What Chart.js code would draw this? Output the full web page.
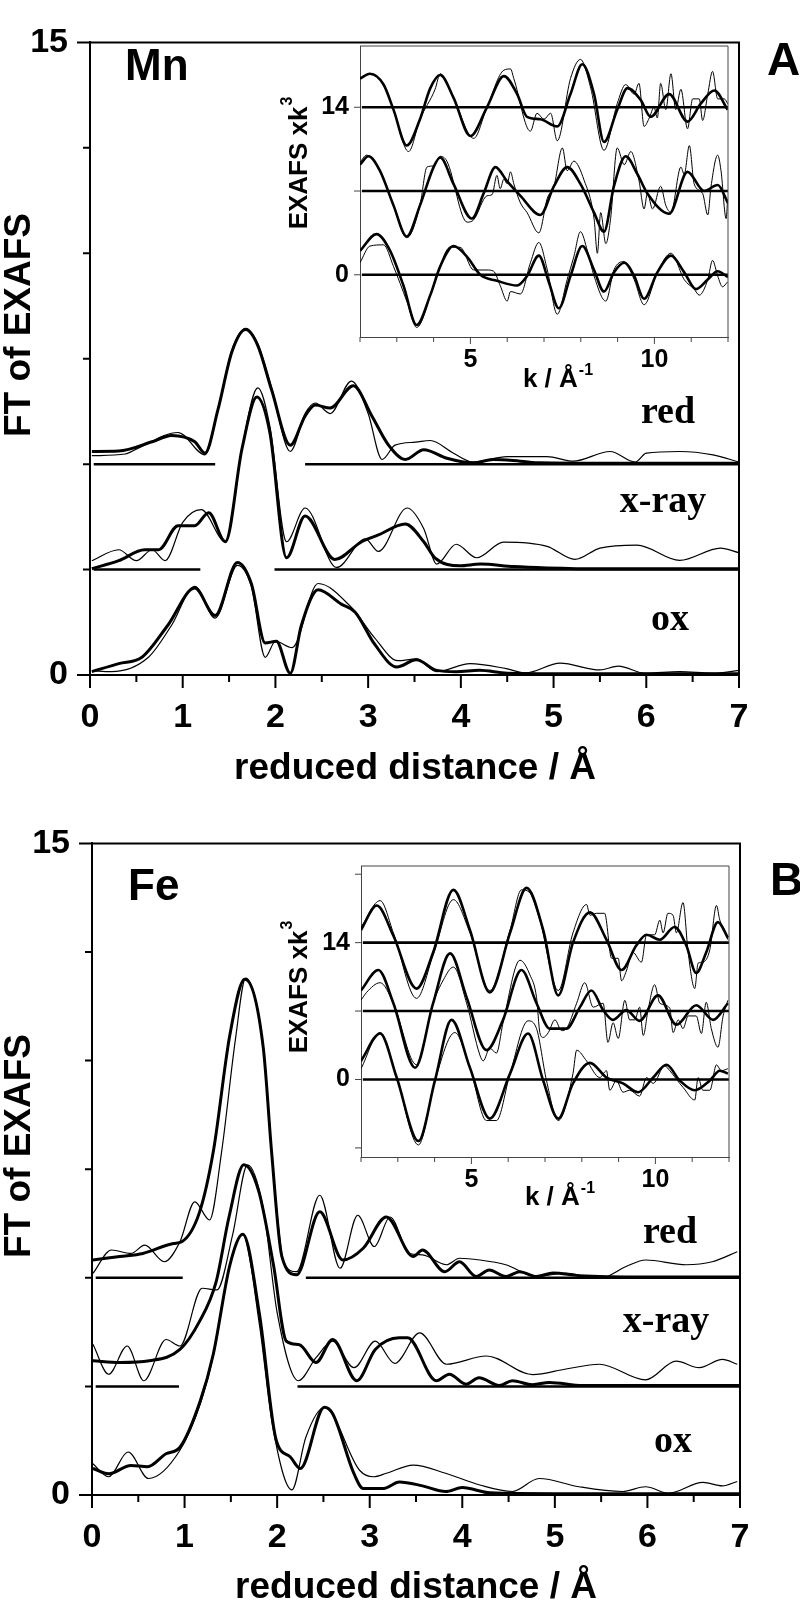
<!DOCTYPE html>
<html>
<head>
<meta charset="utf-8">
<script src="https://cdn.jsdelivr.net/npm/chart.js@4.4.1/dist/chart.umd.min.js"></script>
<style>
  body { margin: 0; background: #fff; }
  #wrap { position: relative; width: 800px; height: 1602px; background: #fff; }
  canvas { position: absolute; }
</style>
</head>
<body>
<div id="wrap">
  <canvas id="mainA" width="800" height="801" style="left:0;top:0"></canvas>
  <canvas id="insetA" width="480" height="390" style="left:270px;top:20px"></canvas>
  <canvas id="mainB" width="800" height="801" style="left:0;top:801px"></canvas>
  <canvas id="insetB" width="480" height="390" style="left:271px;top:840px"></canvas>
</div>
<script>
// ---- Mn, FT of EXAFS (reduced distance in Å, curves already offset) ----
const mnRedFit = [[0.02,5.30],[0.31,5.31],[0.67,5.53],[0.88,5.68],[1.13,5.53],[1.24,5.26],[1.38,6.29],[1.53,7.66],[1.68,8.19],[1.81,7.81],[1.96,6.75],[2.16,5.45],[2.32,6.14],[2.43,6.40],[2.59,6.33],[2.84,6.86],[3.04,6.14],[3.22,5.45],[3.40,5.11],[3.60,5.34],[3.85,5.14],[4.13,5.03],[4.35,5.11],[4.64,5.07],[4.86,5.03],[5.5,5.02],[6.0,5.02],[7.0,5.02]];
const mnRedExp = [[0.02,5.2],[0.38,5.24],[0.52,5.38],[0.95,5.75],[1.24,5.22],[1.38,6.3],[1.53,7.7],[1.68,8.22],[1.81,7.85],[1.96,6.8],[2.16,5.30],[2.32,6.2],[2.43,6.45],[2.59,6.2],[2.82,6.97],[3.0,6.2],[3.15,5.11],[3.29,5.45],[3.51,5.52],[3.67,5.56],[3.92,5.26],[4.13,5.05],[4.5,5.18],[4.93,5.18],[5.21,5.07],[5.61,5.30],[5.88,5.05],[6.0,5.26],[6.36,5.30],[6.72,5.22],[7.0,5.05]];
const mnXrayFit = [[0.02,2.52],[0.31,2.71],[0.59,2.97],[0.74,2.97],[0.95,3.54],[1.13,3.54],[1.28,3.85],[1.46,3.16],[1.64,5.37],[1.80,6.59],[1.94,5.75],[2.12,2.78],[2.32,3.77],[2.64,2.74],[2.93,3.16],[3.11,3.32],[3.40,3.58],[3.60,3.16],[3.72,2.78],[3.99,2.59],[4.21,2.63],[4.57,2.57],[4.93,2.54],[5.5,2.52],[7.0,2.52]];
const mnXrayExp = [[0.02,2.71],[0.31,2.97],[0.50,2.71],[0.67,2.97],[0.81,2.71],[1.0,3.62],[1.2,3.92],[1.46,3.16],[1.64,5.4],[1.81,6.81],[1.94,5.9],[2.12,3.16],[2.32,3.96],[2.66,2.55],[2.97,3.23],[3.11,2.93],[3.42,3.96],[3.60,3.47],[3.74,2.63],[3.95,3.10],[4.17,2.78],[4.46,3.15],[4.93,3.05],[5.23,2.74],[5.50,3.01],[5.9,3.08],[6.36,2.72],[6.80,3.01],[7.0,2.9]];
const mnOxFit = [[0.02,0.08],[0.31,0.27],[0.56,0.42],[0.84,1.18],[1.13,2.06],[1.35,1.41],[1.59,2.67],[1.74,2.17],[1.89,0.76],[2.01,0.80],[2.16,0.04],[2.28,1.18],[2.46,2.02],[2.71,1.68],[2.86,1.49],[3.07,0.73],[3.31,0.19],[3.52,0.36],[3.74,0.11],[3.95,0.08],[4.2,0.11],[4.5,0.04],[5.0,0.03],[7.0,0.03]];
const mnOxExp = [[0.02,0.1],[0.23,0.08],[0.63,0.42],[0.88,1.18],[1.13,2.1],[1.35,1.35],[1.59,2.6],[1.74,2.1],[1.89,0.42],[2.0,0.8],[2.18,0.65],[2.46,2.17],[2.82,1.6],[3.07,0.88],[3.32,0.34],[3.52,0.38],[3.74,0.08],[4.1,0.27],[4.49,0.15],[4.7,0.05],[5.07,0.28],[5.5,0.12],[5.7,0.21],[5.99,0.04],[6.36,0.08],[6.72,0.04],[7.0,0.11]];
const mnRedBase = [[0.04,1.35],[2.32,7]];
const mnXrayBase = [[0.04,1.19],[1.99,7]];

// ---- Fe, FT of EXAFS ----
const feRedFit = [[0.01,5.41],[0.30,5.49],[0.55,5.56],[0.88,5.79],[0.97,5.83],[1.16,6.5],[1.31,7.9],[1.49,10.6],[1.65,11.87],[1.85,10.3],[1.94,7.9],[2.05,5.5],[2.21,5.07],[2.46,6.52],[2.71,5.41],[2.93,5.68],[3.18,6.4],[3.47,5.49],[3.57,5.64],[3.81,5.14],[3.97,5.37],[4.15,5.03],[4.29,5.18],[4.47,5.03],[4.62,5.14],[4.8,5.03],[4.98,5.11],[5.26,5.05],[6.0,5.02],[7.0,5.02]];
const feRedExp = [[0.01,5.1],[0.21,5.64],[0.42,5.56],[0.57,5.75],[0.78,5.37],[0.95,5.83],[1.11,6.75],[1.27,6.33],[1.40,7.9],[1.55,10.5],[1.66,11.9],[1.85,10.3],[1.94,7.9],[2.07,5.37],[2.21,5.14],[2.46,6.9],[2.68,5.22],[2.87,6.44],[3.05,5.72],[3.22,6.4],[3.43,5.56],[3.57,5.53],[3.83,5.30],[3.97,5.45],[4.19,5.41],[4.47,5.30],[4.8,5.03],[5.12,5.11],[5.33,5.03],[5.5,5.0],[5.77,5.26],[5.98,5.41],[6.42,5.30],[6.7,5.37],[6.97,5.60]];
const feXrayFit = [[0.01,3.09],[0.30,3.05],[0.62,3.09],[0.95,3.35],[1.16,3.99],[1.34,4.9],[1.48,6.4],[1.64,7.6],[1.80,7.0],[1.96,5.3],[2.10,3.54],[2.24,3.46],[2.42,3.05],[2.60,3.58],[2.86,2.63],[3.06,3.35],[3.32,3.62],[3.41,3.62],[3.72,2.63],[3.86,2.78],[4.04,2.55],[4.18,2.70],[4.4,2.52],[4.54,2.63],[4.76,2.54],[4.94,2.59],[5.3,2.52],[7.0,2.52]];
const feXrayExp = [[0.01,3.47],[0.18,2.78],[0.38,3.43],[0.56,2.63],[0.80,3.58],[0.95,3.43],[1.19,4.76],[1.35,4.72],[1.52,6.0],[1.68,7.6],[1.85,6.6],[2.0,4.2],[2.23,2.63],[2.42,3.16],[2.60,3.54],[2.83,2.93],[3.06,3.54],[3.27,3.03],[3.54,3.73],[3.83,3.01],[4.26,3.2],[4.76,2.77],[5.12,2.9],[5.48,3.01],[5.98,2.65],[6.31,3.08],[6.56,2.93],[6.81,3.12],[6.97,3.01]];
const feOxFit = [[0.01,0.61],[0.18,0.49],[0.42,0.68],[0.60,0.65],[0.80,0.95],[0.95,1.10],[1.17,2.17],[1.31,3.24],[1.49,5.3],[1.63,6.0],[1.81,4.15],[1.99,1.26],[2.14,0.88],[2.25,0.61],[2.51,2.02],[2.60,1.87],[2.83,0.49],[2.93,0.15],[3.15,0.15],[3.32,0.3],[3.57,0.21],[3.82,0.08],[4.0,0.17],[4.3,0.05],[5.0,0.03],[7.0,0.03]];
const feOxExp = [[0.01,0.72],[0.18,0.42],[0.39,0.99],[0.61,0.38],[0.95,1.03],[1.17,2.1],[1.31,3.2],[1.49,5.3],[1.63,6.0],[1.81,3.9],[1.95,1.6],[2.16,0.12],[2.31,1.33],[2.51,2.02],[2.89,0.57],[3.04,0.42],[3.18,0.5],[3.47,0.69],[3.82,0.50],[4.19,0.23],[4.54,0.08],[4.83,0.38],[5.26,0.19],[5.73,0.08],[5.98,0.19],[6.23,0.04],[6.6,0.29],[6.81,0.21],[6.97,0.31]];
const feRedBase = [[0.04,0.98],[2.31,7]];
const feXrayBase = [[0.04,0.94],[2.22,7]];

const levelRed = 5, levelXray = 2.5;

// ---- insets: EXAFS x k^3 vs k (Å^-1), offsets 14 / 7 / 0 ----
const mnInsetRedFit = [[2.0,16.4],[2.27,16.8],[2.64,15.9],[2.91,13.8],[3.27,10.8],[3.63,13.0],[3.91,15.6],[4.18,16.7],[4.54,14.8],[5.0,11.6],[5.45,14.0],[5.91,16.6],[6.27,15.1],[6.54,13.2],[6.9,13.0],[7.36,12.4],[7.72,15.1],[8.04,17.6],[8.36,15.1],[8.63,11.1],[8.99,13.8],[9.27,15.6],[9.63,14.6],[9.9,13.2],[10.4,15.1],[10.9,12.8],[11.26,14.3],[11.63,15.4],[11.99,13.8]];
const mnInsetRedExp = [[2.0,16.4],[2.27,16.8],[2.64,15.9],[2.91,13.8],[3.32,10.3],[3.63,13.0],[4.04,15.5],[4.18,16.8],[4.54,14.8],[5.09,11.4],[5.45,14.0],[5.91,17.1],[6.09,17.2],[6.18,16.4],[6.63,12.0],[6.81,13.5],[7.0,13.0],[7.18,13.5],[7.36,11.2],[7.72,16.4],[7.99,18.0],[8.27,15.6],[8.63,10.4],[8.99,14.3],[9.22,15.9],[9.45,15.1],[9.58,16.0],[9.72,12.4],[9.86,13.1],[9.99,14.0],[10.08,13.1],[10.17,16.0],[10.31,13.8],[10.45,16.8],[10.58,13.8],[10.72,15.5],[10.9,12.2],[11.04,14.7],[11.22,14.7],[11.31,12.9],[11.45,15.1],[11.58,17.0],[11.72,14.7],[11.9,14.7],[11.99,14.3]];
const mnInsetXrayFit = [[2.0,9.2],[2.23,9.9],[2.54,8.7],[2.91,5.8],[3.27,3.2],[3.63,5.8],[4.0,9.0],[4.18,9.8],[4.54,7.6],[5.04,4.7],[5.36,6.8],[5.68,9.0],[6.0,7.8],[6.36,6.6],[6.9,5.0],[7.27,7.4],[7.63,9.0],[7.99,7.6],[8.36,5.2],[8.63,3.6],[8.9,7.4],[9.22,9.9],[9.54,8.4],[9.81,6.8],[10.4,5.1],[10.9,8.6],[11.35,7.0],[11.72,7.5],[12.0,6.0]];
const mnInsetXrayExp = [[2.0,9.4],[2.18,10.0],[2.54,8.7],[2.91,5.8],[3.27,3.1],[3.63,5.8],[3.82,9.0],[4.0,9.1],[4.18,9.9],[4.36,9.5],[4.91,4.4],[5.09,4.6],[5.45,6.6],[5.59,6.7],[5.72,8.3],[5.81,7.2],[5.91,8.0],[6.0,7.6],[6.09,8.6],[6.18,7.6],[6.36,6.0],[6.54,5.2],[6.86,3.5],[7.09,6.4],[7.27,7.4],[7.5,10.6],[7.63,8.7],[7.81,9.5],[8.09,7.9],[8.36,4.7],[8.45,1.8],[8.54,5.2],[8.68,2.6],[8.81,4.7],[8.99,10.6],[9.18,9.2],[9.36,10.3],[9.58,7.9],[9.72,5.5],[9.81,6.8],[9.95,5.5],[10.17,7.4],[10.31,5.8],[10.45,5.2],[10.72,9.0],[10.81,8.4],[10.95,10.8],[11.08,7.6],[11.31,6.8],[11.45,5.0],[11.54,7.4],[11.72,10.0],[11.81,8.7],[11.95,4.7],[11.99,6.3]];
const mnInsetOxFit = [[2.0,2.0],[2.45,3.4],[2.82,2.0],[3.18,-0.9],[3.54,-4.2],[3.91,-1.7],[4.18,0.7],[4.54,2.4],[4.91,1.5],[5.27,0.0],[5.72,-0.5],[6.27,-0.9],[6.54,-0.1],[6.86,1.6],[7.13,-0.6],[7.40,-2.8],[7.72,-0.1],[8.04,2.4],[8.36,0.4],[8.63,-1.4],[8.9,0.2],[9.18,1.0],[9.45,-0.1],[9.72,-2.0],[10.08,0.2],[10.45,1.6],[10.81,0.2],[11.13,-1.2],[11.45,-0.4],[11.72,0.3],[12.0,-0.2]];
const mnInsetOxExp = [[2.0,1.0],[2.27,2.4],[2.64,2.5],[2.91,0.7],[3.27,-2.2],[3.54,-4.4],[4.0,-0.9],[4.45,2.3],[4.72,2.3],[5.09,0.4],[5.45,0.4],[5.63,0.3],[5.81,-0.9],[6.0,-2.2],[6.09,-1.4],[6.36,-1.6],[6.63,1.0],[6.86,2.7],[7.09,0.4],[7.36,-3.3],[7.63,-0.4],[7.81,1.5],[7.99,3.6],[8.18,2.0],[8.36,-0.1],[8.68,-2.2],[8.9,0.4],[9.18,1.1],[9.45,-0.4],[9.72,-2.5],[10.08,0.2],[10.45,1.8],[10.81,-0.4],[11.08,-1.2],[11.22,-1.7],[11.45,-0.4],[11.58,1.2],[11.72,-0.1],[11.85,-1.0],[11.99,-0.6]];

const feInsetRedFit = [[2.0,15.3],[2.43,17.8],[2.88,14.7],[3.51,9.3],[3.96,13.0],[4.51,19.4],[4.96,15.3],[5.50,8.9],[6.05,15.0],[6.50,19.6],[6.95,15.3],[7.36,8.6],[7.76,14.0],[8.22,17.1],[8.67,14.3],[9.08,11.2],[9.48,13.7],[9.76,14.8],[10.12,14.3],[10.52,15.6],[10.84,13.7],[11.11,10.9],[11.38,13.0],[11.70,16.1],[11.97,14.5]];
const feInsetRedExp = [[2.0,15.6],[2.52,18.3],[2.88,15.0],[3.51,8.3],[3.96,12.7],[4.51,18.4],[4.96,15.0],[5.50,9.1],[6.05,15.3],[6.36,19.4],[6.59,19.1],[6.86,16.3],[7.36,9.1],[7.76,15.0],[8.13,17.9],[8.22,16.8],[8.40,17.0],[8.62,17.0],[8.81,12.4],[8.99,12.4],[9.08,10.1],[9.21,11.1],[9.39,13.0],[9.62,12.0],[9.76,14.8],[9.98,14.8],[10.12,16.3],[10.21,15.0],[10.34,17.0],[10.48,16.8],[10.57,15.0],[10.75,18.1],[10.89,13.0],[11.07,9.3],[11.16,11.9],[11.29,12.0],[11.48,13.3],[11.66,17.8],[11.75,16.3],[11.88,15.3],[11.97,14.3]];
const feInsetXrayFit = [[2.0,9.1],[2.47,11.2],[2.88,7.8],[3.47,1.2],[3.96,7.8],[4.42,12.9],[4.87,8.4],[5.41,3.0],[5.86,6.1],[6.36,11.2],[6.77,7.8],[7.13,5.2],[7.58,5.2],[7.95,7.4],[8.26,9.1],[8.58,7.1],[8.85,6.1],[9.21,7.1],[9.57,6.0],[10.07,8.6],[10.57,5.6],[11.11,7.6],[11.57,6.1],[11.97,7.8]];
const feInsetXrayExp = [[2.0,8.1],[2.15,8.9],[2.52,9.9],[2.88,7.8],[3.51,1.5],[3.96,7.8],[4.24,10.2],[4.51,11.5],[4.87,7.8],[5.23,2.5],[5.32,1.9],[5.50,3.2],[5.68,2.7],[5.86,5.8],[6.32,12.2],[6.59,10.7],[6.77,8.4],[6.86,4.8],[6.95,4.3],[7.09,4.8],[7.27,6.1],[7.45,5.0],[7.58,5.2],[7.86,7.8],[8.08,9.9],[8.31,7.4],[8.58,7.8],[8.71,3.8],[8.85,5.8],[8.99,4.2],[9.17,8.1],[9.30,6.1],[9.44,6.1],[9.57,7.4],[9.67,4.5],[9.80,7.1],[9.98,9.7],[10.12,7.8],[10.39,7.3],[10.48,4.8],[10.62,6.1],[10.75,5.2],[10.89,6.5],[11.11,6.5],[11.25,4.7],[11.38,7.9],[11.52,5.2],[11.70,3.3],[11.84,6.5],[11.97,8.1]];
const feInsetOxFit = [[2.0,1.9],[2.52,4.7],[2.97,0.2],[3.56,-6.3],[4.01,-0.1],[4.46,6.1],[4.96,1.2],[5.50,-4.0],[6.05,0.6],[6.54,4.7],[6.95,-0.1],[7.36,-4.0],[7.76,-0.4],[8.22,1.7],[8.67,0.2],[9.12,-0.4],[9.53,-1.3],[9.94,0.2],[10.30,1.5],[10.66,-0.1],[11.07,-1.1],[11.48,-0.1],[11.75,0.9],[11.97,0.6]];
const feInsetOxExp = [[2.0,1.1],[2.52,4.8],[2.97,0.2],[3.56,-6.7],[4.01,-0.1],[4.55,4.8],[4.96,1.2],[5.41,-4.2],[5.68,-4.2],[6.05,0.6],[6.54,6.0],[6.77,5.2],[7.04,-0.1],[7.36,-4.2],[7.76,0.6],[7.86,3.0],[8.13,1.9],[8.49,0.2],[8.67,0.9],[8.76,-1.1],[8.94,-0.1],[9.12,-1.3],[9.30,-1.1],[9.57,-1.7],[9.76,0.2],[9.94,-0.4],[10.25,1.4],[10.39,0.9],[10.66,-0.4],[10.75,-0.8],[11.07,-2.1],[11.16,0.2],[11.29,-1.1],[11.48,-1.1],[11.66,1.5],[11.79,0.9],[11.97,1.1]];

const insetLevels = [14, 7, 0];
const insetBaseRange = [2.05, 12];

const SANS = '"Liberation Sans", Arial, Helvetica, sans-serif';
const SERIF = '"Liberation Serif", "Times New Roman", serif';

const pts = arr => arr.map(([x, y]) => ({x, y}));
const curve = (arr, w) => ({
  data: pts(arr), borderColor: '#000', borderWidth: w, pointRadius: 0,
  fill: false, cubicInterpolationMode: 'monotone'
});
const flat = (a, b, level, w) => ({
  data: [{x: a, y: level}, {x: b, y: level}], borderColor: '#000',
  borderWidth: w, pointRadius: 0, fill: false, tension: 0
});

function drawText(ctx, t) {
  ctx.save();
  ctx.translate(t.x, t.y);
  if (t.rot) ctx.rotate(t.rot);
  ctx.fillStyle = '#000';
  ctx.textBaseline = t.base || 'alphabetic';
  ctx.textAlign = 'left';
  ctx.font = t.font;
  const w1 = ctx.measureText(t.text).width;
  let w2 = 0;
  if (t.sup) { ctx.font = t.supFont; w2 = ctx.measureText(t.sup).width + 1; }
  const start = t.align === 'left' ? 0 : -(w1 + w2) / 2;
  ctx.font = t.font;
  ctx.fillText(t.text, start, 0);
  if (t.sup) { ctx.font = t.supFont; ctx.fillText(t.sup, start + w1 + 1, -t.supDy); }
  ctx.restore();
}

// tick marks, top/right frame and free text
function decor(cfg) {
  const isMult = (v, m) => Math.abs(v / m - Math.round(v / m)) < 1e-6;
  return {
    id: 'decor',
    afterDraw(chart) {
      const {ctx, chartArea: a, scales: {x, y}} = chart;
      ctx.save();
      ctx.strokeStyle = cfg.color;
      ctx.lineWidth = cfg.tickWidth;
      ctx.beginPath();
      x.ticks.forEach(t => {
        const px = x.getPixelForValue(t.value);
        const len = isMult(t.value, cfg.xMajor) ? cfg.xLong : cfg.xShort;
        ctx.moveTo(px, a.bottom); ctx.lineTo(px, a.bottom + len);
      });
      y.ticks.forEach(t => {
        const py = y.getPixelForValue(t.value);
        const len = cfg.yMajor.includes(t.value) ? cfg.yLong : cfg.yShort;
        ctx.moveTo(a.left, py); ctx.lineTo(a.left - len, py);
      });
      ctx.stroke();
      ctx.lineWidth = cfg.frameWidth;
      ctx.beginPath();
      ctx.moveTo(a.left, a.top); ctx.lineTo(a.right, a.top); ctx.lineTo(a.right, a.bottom);
      ctx.stroke();
      ctx.restore();
      cfg.texts.forEach(t => drawText(ctx, t));
    }
  };
}

function mainChart(id, s) {
  const datasets = [
    curve(s.redExp, 1.2), curve(s.redFit, 3),
    curve(s.xrayExp, 1.2), curve(s.xrayFit, 3),
    curve(s.oxExp, 1.2), curve(s.oxFit, 3)
  ];
  s.redBase.forEach(([a, b]) => datasets.push(flat(a, b, levelRed, 2.5)));
  s.xrayBase.forEach(([a, b]) => datasets.push(flat(a, b, levelXray, 2.5)));
  const tickFont = {family: SANS, size: 34, weight: 'bold'};
  return new Chart(document.getElementById(id), {
    type: 'line',
    data: {datasets},
    options: {
      responsive: false, animation: false,
      layout: {padding: {top: s.top, right: s.right, left: 0, bottom: 0}},
      plugins: {legend: {display: false}, tooltip: {enabled: false}},
      scales: {
        x: {
          type: 'linear', min: 0, max: 7,
          ticks: {stepSize: 0.5, autoSkip: false, maxRotation: 0, padding: 22, color: '#000', font: tickFont,
                  callback: v => Number.isInteger(v) ? v : ''},
          grid: {display: false, drawTicks: false},
          border: {color: '#000', width: 2},
          afterFit: sc => { sc.height = s.xHeight; }
        },
        y: {
          min: 0, max: 15,
          ticks: {stepSize: 2.5, autoSkip: false, padding: 22, color: '#000', font: tickFont,
                  callback: v => (v === 0 || v === 15) ? v : ''},
          grid: {display: false, drawTicks: false},
          border: {color: '#000', width: 2},
          afterFit: sc => { sc.width = s.yWidth; }
        }
      }
    },
    plugins: [decor({
      color: '#000', tickWidth: 2, frameWidth: 2,
      xMajor: 1, xLong: 13, xShort: 7, yMajor: [0, 15], yLong: 13, yShort: 7,
      texts: s.texts
    })]
  });
}

function insetChart(id, s) {
  const datasets = [
    curve(s.redExp, 1), curve(s.redFit, 2.6),
    curve(s.xrayExp, 1), curve(s.xrayFit, 2.6),
    curve(s.oxExp, 1), curve(s.oxFit, 2.6)
  ];
  insetLevels.forEach(l => datasets.push(flat(insetBaseRange[0], insetBaseRange[1], l, 2.6)));
  const tickFont = {family: SANS, size: 25, weight: 'bold'};
  return new Chart(document.getElementById(id), {
    type: 'line',
    data: {datasets},
    options: {
      responsive: false, animation: false,
      layout: {padding: {top: 13, right: 22, left: 0, bottom: 0}},
      plugins: {legend: {display: false}, tooltip: {enabled: false}},
      scales: {
        x: {
          type: 'linear', min: 2, max: 12,
          ticks: {stepSize: 1, autoSkip: false, maxRotation: 0, padding: 8, color: '#000', font: tickFont,
                  callback: v => (v === 5 || v === 10) ? v : ''},
          grid: {display: false, drawTicks: false},
          border: {color: '#444', width: 1},
          afterFit: sc => { sc.height = 73; }
        },
        y: {
          min: s.yMin, max: s.yMax,
          afterBuildTicks: sc => { sc.ticks = s.yTicks.map(v => ({value: v})); },
          ticks: {autoSkip: false, padding: 11, color: '#000', font: tickFont,
                  callback: v => (v === 0 || v === 14) ? v : ''},
          grid: {display: false, drawTicks: false},
          border: {color: '#444', width: 1},
          afterFit: sc => { sc.width = 90; }
        }
      }
    },
    plugins: [decor({
      color: '#444', tickWidth: 1, frameWidth: 1,
      xMajor: 5, xLong: 7, xShort: 5, yMajor: s.yTicks, yLong: 6, yShort: 6,
      texts: s.texts
    })]
  });
}

const labelFont = 'bold 38px ' + SERIF;
const titleFont = 'bold 37px ' + SANS;
const up = -Math.PI / 2;

mainChart('mainA', {
  redFit: mnRedFit, redExp: mnRedExp, xrayFit: mnXrayFit, xrayExp: mnXrayExp, oxFit: mnOxFit, oxExp: mnOxExp,
  redBase: mnRedBase, xrayBase: mnXrayBase,
  top: 19, right: 61, yWidth: 90, xHeight: 126,
  texts: [
    {text: 'FT of EXAFS', x: 20, y: 325, rot: up, base: 'middle', font: 'bold 37px ' + SANS},
    {text: 'reduced distance / Å', x: 415, y: 779, font: titleFont},
    {text: 'Mn', x: 125, y: 80, align: 'left', font: 'bold 44px ' + SANS},
    {text: 'A', x: 767, y: 75, align: 'left', font: 'bold 46px ' + SANS},
    {text: 'red', x: 668, y: 423, font: labelFont},
    {text: 'x-ray', x: 663, y: 512, font: labelFont},
    {text: 'ox', x: 670, y: 630, font: labelFont}
  ]
});

mainChart('mainB', {
  redFit: feRedFit, redExp: feRedExp, xrayFit: feXrayFit, xrayExp: feXrayExp, oxFit: feOxFit, oxExp: feOxExp,
  redBase: feRedBase, xrayBase: feXrayBase,
  top: 38, right: 60, yWidth: 92, xHeight: 107,
  texts: [
    {text: 'FT of EXAFS', x: 20, y: 345, rot: up, base: 'middle', font: 'bold 37px ' + SANS},
    {text: 'reduced distance / Å', x: 416, y: 797, font: titleFont},
    {text: 'Fe', x: 128, y: 99, align: 'left', font: 'bold 44px ' + SANS},
    {text: 'B', x: 770, y: 94, align: 'left', font: 'bold 46px ' + SANS},
    {text: 'red', x: 670, y: 442, font: labelFont},
    {text: 'x-ray', x: 666, y: 531, font: labelFont},
    {text: 'ox', x: 673, y: 651, font: labelFont}
  ]
});

const insetYTitle = (x, y) => ({text: 'EXAFS xk', sup: '3', x, y, rot: up, base: 'middle',
  font: 'bold 26px ' + SANS, supFont: 'bold 16px ' + SANS, supDy: 12});
const insetXTitle = (x, y) => ({text: 'k / Å', sup: '-1', x, y,
  font: 'bold 26px ' + SANS, supFont: 'bold 16px ' + SANS, supDy: 12});

insetChart('insetA', {
  redFit: mnInsetRedFit, redExp: mnInsetRedExp, xrayFit: mnInsetXrayFit, xrayExp: mnInsetXrayExp,
  oxFit: mnInsetOxFit, oxExp: mnInsetOxExp,
  yMin: -5.2, yMax: 19.12, yTicks: [0, 7, 14],
  texts: [insetYTitle(30, 143), insetXTitle(288, 367)]
});

insetChart('insetB', {
  redFit: feInsetRedFit, redExp: feInsetRedExp, xrayFit: feInsetXrayFit, xrayExp: feInsetXrayExp,
  oxFit: feInsetOxFit, oxExp: feInsetOxExp,
  yMin: -7.93, yMax: 21.84, yTicks: [-7, 0, 7, 14, 21],
  texts: [insetYTitle(29, 147), insetXTitle(289, 365)]
});
</script>
</body>
</html>
